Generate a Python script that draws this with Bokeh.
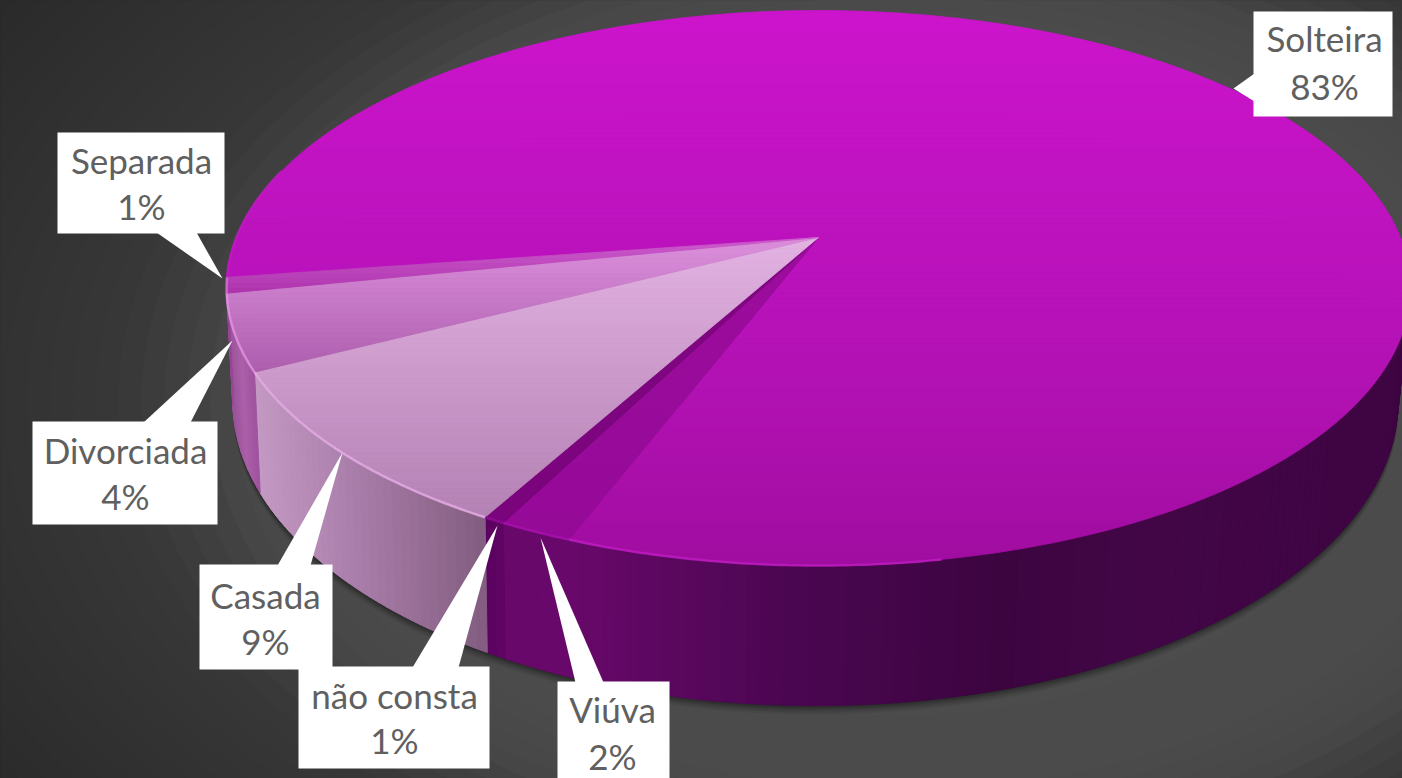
import numpy as np
from bokeh.core.properties import value
from bokeh.embed import file_html
from bokeh.models import Range1d
from bokeh.plotting import figure
from bokeh.resources import INLINE

# ---- data (clockwise from the start of Solteira) ----
categories = ["Solteira", "Viúva", "não consta", "Casada", "Divorciada", "Separada"]
shares = [83.1, 1.7, 0.5, 9.4, 4.4, 0.9]
percent_labels = ["83%", "2%", "1%", "9%", "4%", "1%"]

# ---- styling and layout ----
START_DEG = 261.7  # clockwise from the back of the pie
RIM_START_DEG = 170
TOP = dict(cx=818.0, cy=237.0, A=582.0, B=268.3, k=0.182)
BOTTOM = dict(cx=815.0, cy=344.5, A=573.0, B=294.9, k=0.182)

top_stops = {
    "Solteira": [(10, (204, 20, 204)), (300, (184, 18, 186)), (450, (173, 16, 173)), (565, (160, 12, 160))],
    "Separada": [(240, (205, 90, 205)), (295, (172, 50, 172))],
    "Divorciada": [(250, (216, 140, 216)), (375, (172, 92, 172))],
    "Casada": [(240, (226, 178, 226)), (515, (180, 130, 180))],
    "não consta": [(240, (130, 6, 132)), (525, (122, 4, 124))],
    "Viúva": [(240, (156, 12, 158)), (540, (150, 10, 152))],
}
wall_stops = {
    "Solteira": [(570, (104, 8, 106)), (800, (74, 6, 80)), (1000, (60, 5, 64)),
                 (1150, (66, 6, 70)), (1300, (64, 5, 68)), (1410, (62, 5, 66))],
    "Separada": [(220, (150, 70, 150)), (230, (150, 70, 150))],
    "Divorciada": [(224, (150, 80, 150)), (240, (172, 96, 170)), (252, (160, 84, 160))],
    "Casada": [(252, (196, 154, 196)), (345, (172, 128, 172)), (480, (132, 94, 130))],
    "não consta": [(480, (88, 0, 92)), (500, (96, 4, 100))],
    "Viúva": [(500, (104, 8, 106)), (570, (104, 8, 106))],
}
rim_colors = {
    "Solteira": "#bd1cc0", "Separada": "#d070d0", "Divorciada": "#e090e0",
    "Casada": "#e2aae2", "não consta": "#900a94", "Viúva": "#a810ac",
}
boxes = {
    "Solteira": (1253, 1392, 11, 116, 1324, 37, 85),
    "Separada": (57, 224, 132, 233, 141, 159, 205),
    "Divorciada": (32, 217, 421, 524, 125, 449, 495),
    "Casada": (199, 332, 564, 669, 265, 594, 640),
    "não consta": (298, 489, 666, 768, 394, 694, 739),
    "Viúva": (557, 669, 681, 790, 612, 708, 755),
}
leaders = {
    "Solteira": [(1233, 88), (1254, 73), (1254, 101)],
    "Separada": [(222, 278), (156, 232), (196, 232)],
    "Divorciada": [(232, 340), (143, 422), (190, 422)],
    "Casada": [(342, 452), (277, 565), (310, 565)],
    "não consta": [(497, 525), (412, 667), (458, 667)],
    "Viúva": [(540, 537), (575, 682), (603, 682)],
}


def project(theta, d):
    u, v = np.sin(theta), np.cos(theta)
    w = 1 + d["k"] * v
    return d["cx"] + d["A"] * u / w, d["cy"] - d["B"] * v / w


def lerp(stops, t):
    xs = [s[0] for s in stops]
    return tuple(int(round(np.interp(t, xs, [s[1][i] for s in stops]))) for i in range(3))


def hex_of(c):
    return "#%02x%02x%02x" % c


def clip(poly, y0, keep_below):
    out = []
    for i in range(len(poly)):
        a, b = poly[i], poly[(i + 1) % len(poly)]
        ina = a[1] >= y0 if keep_below else a[1] <= y0
        inb = b[1] >= y0 if keep_below else b[1] <= y0
        if ina:
            out.append(a)
        if ina != inb:
            s = (y0 - a[1]) / (b[1] - a[1])
            out.append((a[0] + s * (b[0] - a[0]), y0))
    return out


p = figure(width=1402, height=778, output_backend="svg", toolbar_location=None,
           x_range=Range1d(0, 1402), y_range=Range1d(778, 0), min_border=0)
p.axis.visible = False
p.grid.visible = False
p.outline_line_color = None
p.background_fill_color = "#282828"

# backdrop: soft radial glow built from nested ellipses
for s in np.linspace(1.4, 0.05, 60):
    lv = int(round(np.interp(s, [0, 0.6, 0.68, 0.74, 0.8, 0.92, 1.1, 1.4],
                             [78, 75, 72, 62, 55, 50, 42, 40])))
    p.ellipse(x=[900], y=[400], width=[2000 * s], height=[1300 * s],
              fill_color="#%02x%02x%02x" % (lv, lv, lv), line_color=None)

# shadow under the pie
for grow, alpha in [(9, 0.06), (7, 0.08), (5, 0.10), (3, 0.14), (1, 0.2)]:
    t = np.linspace(0, 2 * np.pi, 240)
    bx, by = project(t, BOTTOM)
    p.patch(bx, by + grow, fill_color="#000000", fill_alpha=alpha, line_color=None)

# slice angles
fractions = np.array(shares) / sum(shares)
edges = np.radians(START_DEG + 360 * np.concatenate([[0], np.cumsum(fractions)]))

# walls
for i, name in enumerate(categories):
    lo, hi = edges[i], edges[i + 1]
    ranges = []
    for shift in (0, 2 * np.pi):
        a, b = max(lo, np.radians(92) + shift), min(hi, np.radians(285) + shift)
        if b > a:
            ranges.append((a, b))
    xs, ys, cols = [], [], []
    for a, b in ranges:
        n = max(2, int((b - a) / np.radians(1.0)))
        ts = np.linspace(a, b, n + 1)
        tx, ty = project(ts, TOP)
        ox, oy = project(ts, BOTTOM)
        for j in range(n):
            xs.append([tx[j], tx[j + 1], ox[j + 1], ox[j]])
            ys.append([ty[j], ty[j + 1], oy[j + 1], oy[j]])
            cols.append(hex_of(lerp(wall_stops[name], 0.5 * (tx[j] + tx[j + 1]))))
    if xs:
        p.patches(xs, ys, fill_color=cols, line_color=cols, line_width=1)

# top faces, banded for a vertical gradient
for i, name in enumerate(categories):
    ts = np.linspace(edges[i], edges[i + 1], max(8, int(np.degrees(edges[i + 1] - edges[i]))) + 1)
    rx, ry = project(ts, TOP)
    poly = [(TOP["cx"], TOP["cy"])] + list(zip(rx, ry))
    xs, ys, cols = [], [], []
    for y0 in np.arange(8, 570, 5):
        band = clip(clip(poly, y0, True), y0 + 5, False)
        if len(band) >= 3:
            xs.append([q[0] for q in band])
            ys.append([q[1] for q in band])
            cols.append(hex_of(lerp(top_stops[name], y0 + 2.5)))
    p.patches(xs, ys, fill_color=cols, line_color=cols, line_width=0.8)

# rim highlight on the visible front
for i, name in enumerate(categories):
    for shift in (0, 2 * np.pi):
        a, b = max(edges[i], np.radians(RIM_START_DEG) + shift), min(edges[i + 1], np.radians(285) + shift)
        if b > a:
            rx, ry = project(np.linspace(a, b, 60), TOP)
            p.line(rx, ry, line_color=rim_colors[name], line_width=2.5, line_alpha=0.85)

# labels
for i, name in enumerate(categories):
    x0, x1, y0, y1, tx, y_name, y_pct = boxes[name]
    p.quad(left=x0, right=x1, top=y0, bottom=y1, fill_color="#ffffff", line_color=None)
    lead = leaders[name]
    p.patch([q[0] for q in lead], [q[1] for q in lead], fill_color="#ffffff", line_color=None)
    p.text([tx], [y_name], text=[name], text_font=value("Lato"), text_font_size="35px",
           text_color="#606060", text_align="center", text_baseline="middle")
    p.text([tx], [y_pct], text=[percent_labels[i]], text_font=value("Lato"), text_font_size="35px",
           text_color="#606060", text_align="center", text_baseline="middle")

open("out.html", "w").write(file_html(p, INLINE))
